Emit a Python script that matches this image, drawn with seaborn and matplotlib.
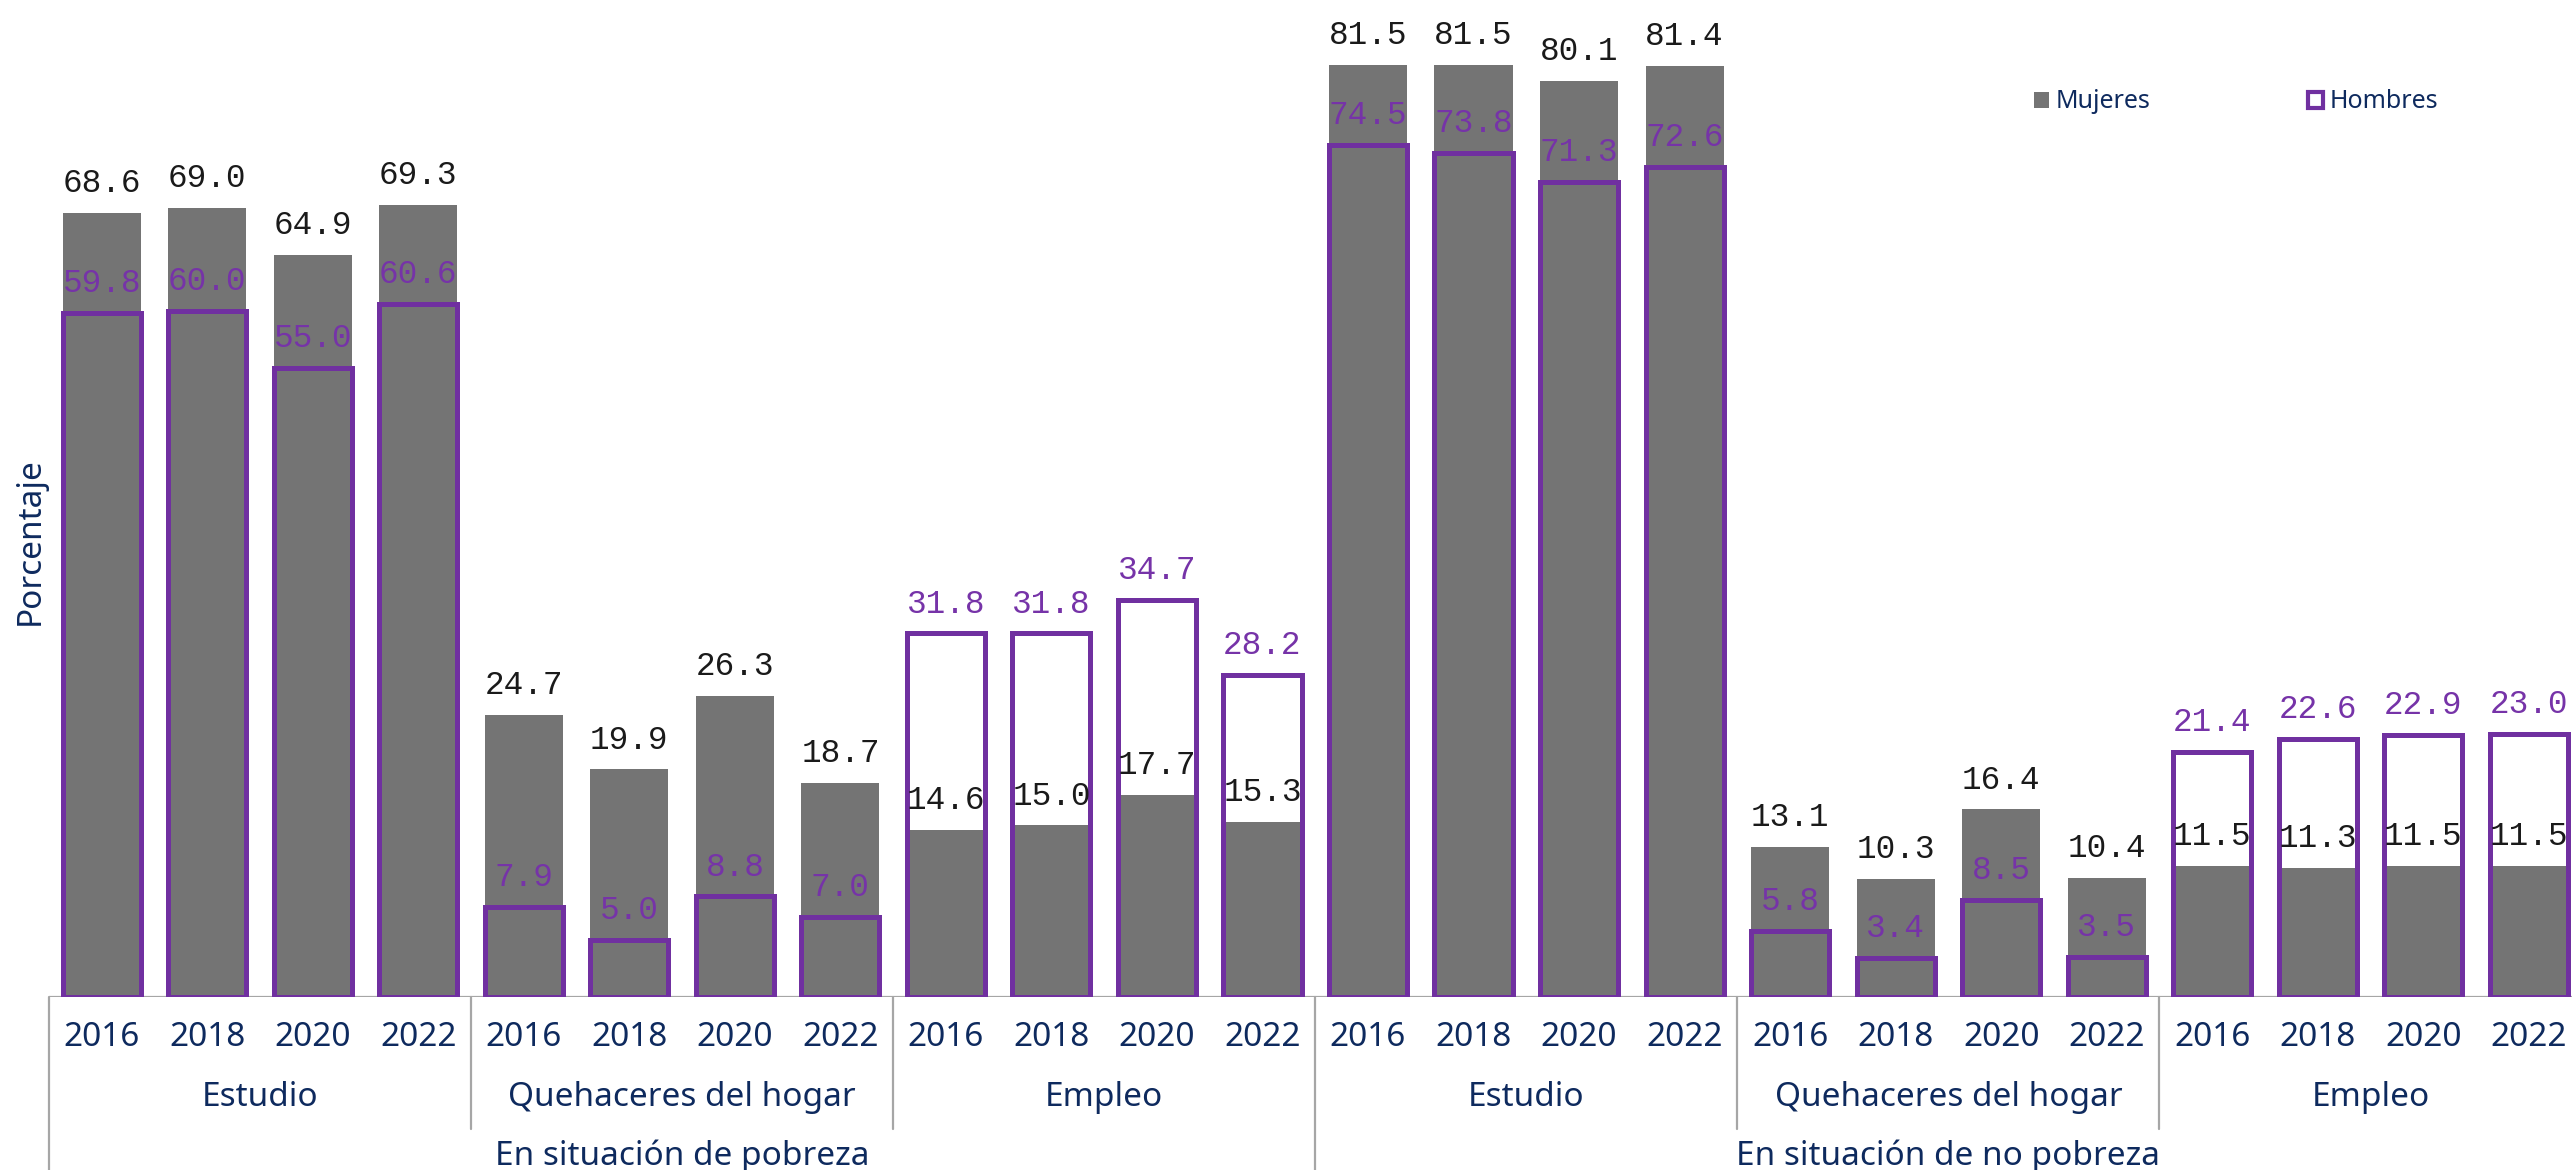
#%%
'''PACKAGE IMPORTS'''
import pandas as pd
import matplotlib.pyplot as plt
import matplotlib.transforms as mtransforms
from matplotlib.patches import Patch
import seaborn as sns

#%%
'''DATA'''
years = ['2016', '2018', '2020', '2022']
activities = ['Estudio', 'Quehaceres del hogar', 'Empleo']
conditions = ['En situación de pobreza', 'En situación de no pobreza']

mujeres_pobreza = [68.6, 69.0, 64.9, 69.3, 24.7, 19.9, 26.3, 18.7, 14.6, 15.0, 17.7, 15.3]
hombres_pobreza = [59.8, 60.0, 55.0, 60.6, 7.9, 5.0, 8.8, 7.0, 31.8, 31.8, 34.7, 28.2]
mujeres_no_pobreza = [81.5, 81.5, 80.1, 81.4, 13.1, 10.3, 16.4, 10.4, 11.5, 11.3, 11.5, 11.5]
hombres_no_pobreza = [74.5, 73.8, 71.3, 72.6, 5.8, 3.4, 8.5, 3.5, 21.4, 22.6, 22.9, 23.0]

#Long table, one row per bar
rows = []
for cond, muj, hom in zip(conditions,
                          [mujeres_pobreza, mujeres_no_pobreza],
                          [hombres_pobreza, hombres_no_pobreza]):
    k = 0
    for act in activities:
        for yr in years:
            rows.append({'key': cond + '|' + act + '|' + yr, 'Condicion': cond,
                         'Actividad': act, 'Anio': yr,
                         'Mujeres': muj[k], 'Hombres': hom[k]})
            k += 1
df = pd.DataFrame(rows)
order = list(df['key'])

#%%
'''STYLE'''
sns.set_style('white')
plt.rcParams['font.family'] = ['Noto Sans', 'DejaVu Sans']

navy = '#0E2A5E'
gray = '#747474'
purple = '#7030A0'
sep_color = '#A6A6A6'

#%%
'''PLOT'''
fig = plt.figure(figsize=(12.86, 5.85), dpi=200)
ax = fig.add_axes([49 / 2572, 173 / 1170, 1 - 49 / 2572, 1 - 173 / 1170])

sns.barplot(data=df, x='key', y='Mujeres', order=order, color=gray,
            width=0.74, errorbar=None, saturation=1, linewidth=0, ax=ax, zorder=2)
sns.barplot(data=df, x='key', y='Hombres', order=order, color=purple,
            width=0.74, errorbar=None, saturation=1, fill=False,
            linewidth=1.8, ax=ax, zorder=3)

#Value labels
for i, r in df.iterrows():
    ax.annotate(f"{r['Mujeres']:.1f}", (i, r['Mujeres']), xytext=(0, 7.5),
                textcoords='offset points', ha='center', va='baseline',
                fontfamily='Liberation Mono', fontsize=11.8, color='#1A1A1A', zorder=5)
    ax.annotate(f"{r['Hombres']:.1f}", (i, r['Hombres']), xytext=(0, 7.5),
                textcoords='offset points', ha='center', va='baseline',
                fontfamily='Liberation Mono', fontsize=11.8, color='#7633A8', zorder=5)

ax.set_xlim(-0.5, 23.41)
ax.set_ylim(0, 87.2)
ax.set_xticks([])
ax.set_yticks([])
ax.set_xlabel('')
ax.set_ylabel('')
sns.despine(ax=ax, left=True, bottom=True)
ax.axhline(0, color=sep_color, lw=0.8, zorder=1)

#Multi-level category axis
trans = mtransforms.blended_transform_factory(ax.transData, ax.transAxes)
h = 997  #axes height in pixels
for i, yr in enumerate(df['Anio']):
    ax.text(i, -40 / h, yr, transform=trans, ha='center', va='center',
            fontsize=12, color=navy, clip_on=False)
for g in range(6):
    ax.text(g * 4 + 1.5, -101 / h, activities[g % 3], transform=trans,
            ha='center', va='center', fontsize=12, color=navy, clip_on=False)
for c in range(2):
    ax.text(c * 12 + 5.5, -159 / h, conditions[c], transform=trans,
            ha='center', va='center', fontsize=12, color=navy, clip_on=False)

for xb in [-0.5, 3.5, 7.5, 11.5, 15.5, 19.5]:
    y_end = -173 / h if xb in (-0.5, 11.5) else -132 / h
    ax.plot([xb, xb], [0, y_end], transform=trans, color=sep_color,
            lw=0.8, clip_on=False)

fig.text(30 / 2572, 1 - 541 / 1170, 'Porcentaje', rotation=90,
         ha='center', va='center', fontsize=12, color=navy)

#Legend
handles = [Patch(facecolor=gray, edgecolor='none', label='Mujeres'),
           Patch(facecolor='white', edgecolor=purple, linewidth=1.5, label='Hombres')]
fig.legend(handles=handles, loc='center left', ncol=2, frameon=False,
           bbox_to_anchor=(2022 / 2572, 1 - 102 / 1170), fontsize=9,
           handlelength=0.6, handleheight=0.6, handletextpad=0.25,
           columnspacing=6.3, borderpad=0, labelcolor=navy)

fig.savefig('out.png', dpi=200)
